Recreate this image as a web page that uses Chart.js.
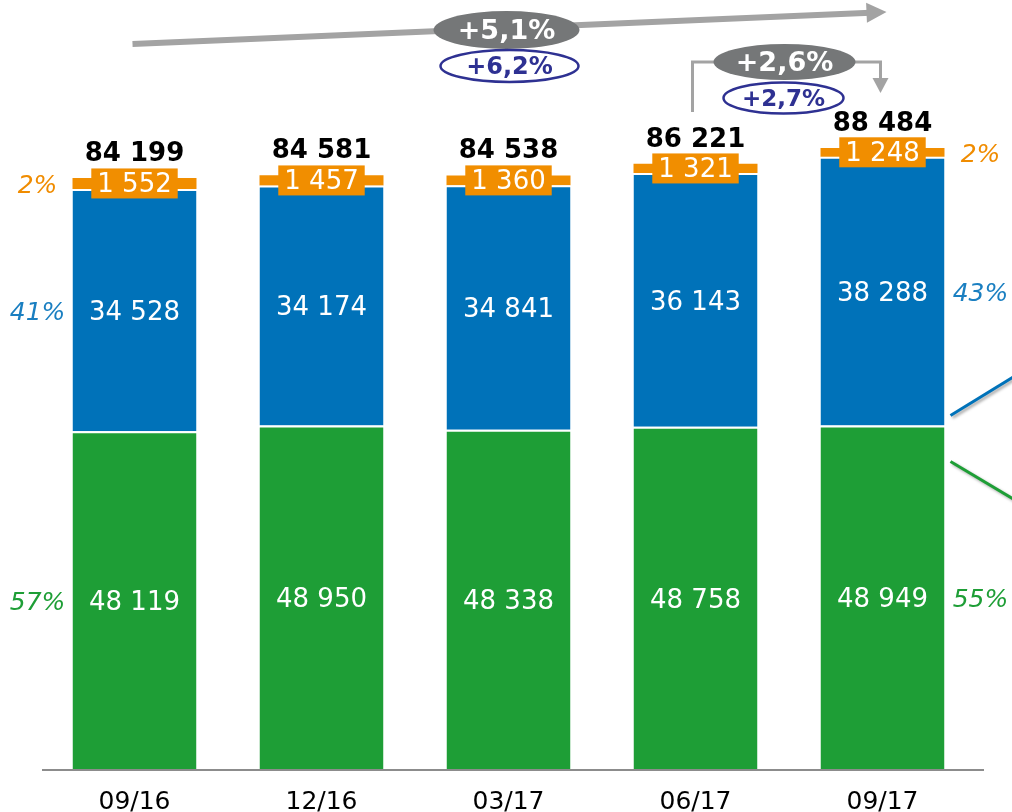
<!DOCTYPE html>
<html><head><meta charset="utf-8">
<script src="https://cdn.jsdelivr.net/npm/chart.js@4"></script>
<style>html,body{margin:0;padding:0;background:#fff}canvas{display:block}</style>
</head><body>
<canvas id="c" width="1012" height="812"></canvas>
<script>
const categories = ['09/16', '12/16', '03/17', '06/17', '09/17'];
const greenValues = [48119, 48950, 48338, 48758, 48949];
const blueValues = [34528, 34174, 34841, 36143, 38288];
const orangeValues = [1552, 1457, 1360, 1321, 1248];
const totalValues = [84199, 84581, 84538, 86221, 88484];
const leftShares = ['57%', '41%', '2%'];   // green, blue, orange (first bar)
const rightShares = ['55%', '43%', '2%'];  // green, blue, orange (last bar)
const growthYear = ['+5,1%', '+6,2%'];
const growthQuarter = ['+2,6%', '+2,7%'];

const FONT = '"DejaVu Sans", Verdana, sans-serif';
const C_GREEN = '#1e9e36', C_BLUE = '#0072b9', C_ORANGE = '#f18e00';
const C_GRAY = '#a3a3a3', C_DARK = '#757778', C_NAVY = '#2e3192';
const shareColors = ['#1e9e36', '#1a7fc1', '#f08c00'];
const DY = 3; // optical vertical centring of text

function fmt(n) { return String(n).replace(/\B(?=(\d{3})+(?!\d))/g, ' '); }

function ellipse(ctx, cx, cy, w, h, fill, stroke, text, font, color) {
  ctx.save();
  ctx.beginPath();
  ctx.ellipse(cx, cy, w / 2, h / 2, 0, 0, Math.PI * 2);
  if (fill) { ctx.fillStyle = fill; ctx.fill(); }
  if (stroke) { ctx.strokeStyle = stroke; ctx.lineWidth = 2.5; ctx.stroke(); }
  ctx.fillStyle = color; ctx.font = font;
  ctx.textAlign = 'center'; ctx.textBaseline = 'middle';
  ctx.fillText(text, cx, cy + 2);
  ctx.restore();
}
function arrowHead(ctx, tx, ty, ang, len, half, color) {
  ctx.save();
  ctx.fillStyle = color;
  ctx.beginPath();
  ctx.moveTo(tx, ty);
  ctx.lineTo(tx - len * Math.cos(ang) + half * Math.sin(ang), ty - len * Math.sin(ang) - half * Math.cos(ang));
  ctx.lineTo(tx - len * Math.cos(ang) - half * Math.sin(ang), ty - len * Math.sin(ang) + half * Math.cos(ang));
  ctx.closePath(); ctx.fill();
  ctx.restore();
}

const labelPlugin = {
  id: 'labels',
  afterDatasetsDraw(chart) {
    const ctx = chart.ctx;
    const xs = chart.scales.x, ys = chart.scales.y;
    const mG = chart.getDatasetMeta(0), mB = chart.getDatasetMeta(1), mO = chart.getDatasetMeta(2);
    const y0 = ys.getPixelForValue(0);
    ctx.save();
    // baseline
    ctx.strokeStyle = '#8c8c8c'; ctx.lineWidth = 2;
    ctx.beginPath(); ctx.moveTo(chart.chartArea.left + 1, y0 + 1); ctx.lineTo(chart.chartArea.right + 8, y0 + 1); ctx.stroke();

    ctx.textAlign = 'center'; ctx.textBaseline = 'middle';
    for (let i = 0; i < categories.length; i++) {
      const g = mG.data[i], b = mB.data[i], o = mO.data[i];
      ctx.fillStyle = '#fff'; ctx.font = '26px ' + FONT;
      ctx.fillText(fmt(greenValues[i]), g.x, (g.y + g.base) / 2 + DY);
      ctx.fillText(fmt(blueValues[i]), b.x, (b.y + b.base) / 2 + DY);
      const oy = (o.y + o.base) / 2;
      const t = fmt(orangeValues[i]);
      const w = ctx.measureText(t).width;
      ctx.fillStyle = C_ORANGE;
      ctx.fillRect(o.x - w / 2 - 6, oy - 15, w + 12, 30);
      ctx.fillStyle = '#fff';
      ctx.fillText(t, o.x, oy + 2);
      ctx.fillStyle = '#000'; ctx.font = 'bold 26px ' + FONT;
      ctx.fillText(fmt(totalValues[i]), o.x, o.y - 27 + DY);
    }
    // shares
    ctx.font = 'italic 25px ' + FONT;
    const metas = [mG, mB, mO];
    const last = categories.length - 1;
    for (let k = 0; k < 3; k++) {
      const el0 = metas[k].data[0], elN = metas[k].data[last];
      ctx.fillStyle = shareColors[k];
      ctx.fillText(leftShares[k], el0.x - el0.width / 2 - 35, (el0.y + el0.base) / 2 + DY);
      ctx.fillText(rightShares[k], elN.x + elN.width / 2 + 36, (elN.y + elN.base) / 2 + DY);
    }

    // yearly growth arrow
    const xa = xs.getPixelForValue(0) - 2, xb = xs.getPixelForValue(last) + 4;
    const ya = 44, yb = 12;
    const ang = Math.atan2(yb - ya, xb - xa);
    ctx.strokeStyle = C_GRAY; ctx.lineWidth = 6; ctx.lineCap = 'butt';
    ctx.beginPath(); ctx.moveTo(xa, ya); ctx.lineTo(xb - 16 * Math.cos(ang), yb - 16 * Math.sin(ang)); ctx.stroke();
    arrowHead(ctx, xb, yb, ang, 20, 10, C_GRAY);
    const xm = xs.getPixelForValue(2) - 2;
    ellipse(ctx, xm, 30, 146, 38, C_DARK, null, growthYear[0], 'bold 27px ' + FONT, '#fff');
    ellipse(ctx, xm + 3, 66, 138, 32, '#fff', C_NAVY, growthYear[1], 'bold 24px ' + FONT, C_NAVY);

    // quarterly growth bracket
    const x3 = xs.getPixelForValue(3) - 3, x4 = xs.getPixelForValue(4) - 2;
    const xq = (x3 + x4) / 2 - 2;
    ctx.strokeStyle = C_GRAY; ctx.lineWidth = 3;
    ctx.beginPath(); ctx.moveTo(x3, 112); ctx.lineTo(x3, 62); ctx.lineTo(xq - 60, 62); ctx.stroke();
    ctx.beginPath(); ctx.moveTo(xq + 60, 62); ctx.lineTo(x4, 62); ctx.lineTo(x4, 80); ctx.stroke();
    arrowHead(ctx, x4, 93, Math.PI / 2, 15, 8, C_GRAY);
    ellipse(ctx, xq, 62, 142, 36, C_DARK, null, growthQuarter[0], 'bold 27px ' + FONT, '#fff');
    ellipse(ctx, xq - 1, 98, 120, 31, '#fff', C_NAVY, growthQuarter[1], 'bold 23px ' + FONT, C_NAVY);

    // side connector lines
    const eB = mB.data[last], eG = mG.data[last];
    const xr = eB.x + eB.width / 2 + 6;
    ctx.lineWidth = 3;
    ctx.shadowColor = 'rgba(0,0,0,0.35)'; ctx.shadowBlur = 3; ctx.shadowOffsetX = 2; ctx.shadowOffsetY = 2;
    ctx.strokeStyle = C_BLUE;
    ctx.beginPath(); ctx.moveTo(xr, eG.y - 10); ctx.lineTo(1014, eG.y - 49); ctx.stroke();
    ctx.strokeStyle = C_GREEN;
    ctx.beginPath(); ctx.moveTo(xr, eG.y + 36); ctx.lineTo(1014, eG.y + 74); ctx.stroke();
    ctx.restore();
  }
};

new Chart(document.getElementById('c'), {
  type: 'bar',
  data: {
    labels: categories,
    datasets: [
      { data: greenValues, backgroundColor: C_GREEN, borderColor: '#fff', borderWidth: { top: 2, bottom: 0, left: 0, right: 0 }, borderSkipped: false },
      { data: blueValues, backgroundColor: C_BLUE, borderColor: '#fff', borderWidth: { top: 2, bottom: 0, left: 0, right: 0 }, borderSkipped: false },
      { data: orangeValues, backgroundColor: C_ORANGE, borderWidth: 0 }
    ]
  },
  options: {
    responsive: false,
    animation: false,
    devicePixelRatio: 1,
    barPercentage: 1,
    categoryPercentage: 0.663,
    layout: { padding: { left: 41, right: 36, top: 32, bottom: -24 } },
    plugins: { legend: { display: false }, tooltip: { enabled: false } },
    scales: {
      x: {
        stacked: true,
        grid: { display: false, drawTicks: false, tickLength: 0 },
        border: { display: false },
        ticks: { color: '#000', font: { family: FONT, size: 25, lineHeight: 1 }, padding: 21 }
      },
      y: { stacked: true, display: false, min: 0, max: 105000 }
    }
  },
  plugins: [labelPlugin]
});
</script>
</body></html>
